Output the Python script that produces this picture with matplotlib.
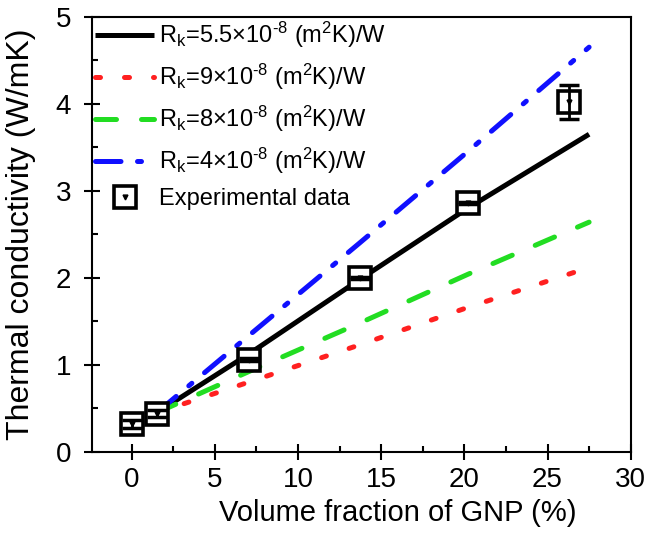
import matplotlib
matplotlib.use("Agg")
import matplotlib.pyplot as plt
from matplotlib.legend_handler import HandlerTuple
from matplotlib.lines import Line2D
from matplotlib.ticker import MultipleLocator

plt.rcParams['font.family'] = ['Liberation Sans', 'DejaVu Sans']
plt.rcParams['mathtext.default'] = 'regular'

# model curves
x_model = [1.5, 7, 13.7, 20.2, 27.5]
k_55 = [0.45, 1.12, 1.98, 2.80, 3.65]
k_9 = [0.45, 0.80, 1.23, 1.66, 2.12]
k_8 = [0.45, 0.92, 1.48, 2.04, 2.64]
k_4 = [0.45, 1.33, 2.40, 3.45, 4.65]

# experimental data
x_exp = [0, 1.5, 7.07, 13.7, 20.2, 26.3]
k_exp = [0.32, 0.44, 1.06, 2.0, 2.86, 4.02]
k_err = [0.05, 0.04, 0.015, 0.015, 0.015, 0.2]

labels = ['R$_{k}$=5.5×10$^{\u20108}$ (m$^{2}$K)/W',
          'R$_{k}$=9×10$^{\u20108}$ (m$^{2}$K)/W',
          'R$_{k}$=8×10$^{\u20108}$ (m$^{2}$K)/W',
          'R$_{k}$=4×10$^{\u20108}$ (m$^{2}$K)/W',
          'Experimental data']

fig = plt.figure(figsize=(6.51, 5.46), dpi=100)
ax = fig.add_axes([0.1409, 0.1722, 0.9688 - 0.1409, 0.9694 - 0.1722])

lw = 3.6
l1, = ax.plot(x_model, k_55, color='black', lw=lw, solid_capstyle='butt')
l2, = ax.plot(x_model, k_9, color='#ff2020', lw=lw, ls=(0, (1.0, 4.8)), dash_capstyle='round')
l3, = ax.plot(x_model, k_8, color='#22dd22', lw=lw, ls=(0, (4.2, 5.0)), dash_capstyle='round')
l4, = ax.plot(x_model, k_4, color='#1010ff', lw=lw, ls=(0, (5.1, 3.3, 0.8, 3.3)), dash_capstyle='round')

ax.plot(x_exp, k_exp, 's', ms=16, mfc='white', mec='black', mew=2.6, ls='none', zorder=5)
ax.errorbar(x_exp, k_exp, yerr=k_err, fmt='none', ecolor='black', elinewidth=2,
            capsize=7, capthick=2.5, zorder=6)
ax.plot(x_exp, k_exp, 'v', ms=3.5, color='black', zorder=7, ls='none')

sq = Line2D([], [], marker='s', ms=16, mfc='white', mec='black', mew=2.6, ls='none')
dt = Line2D([], [], marker='v', ms=3.5, color='black', ls='none')

leg = ax.legend([l1, l2, l3, l4, (sq, dt)], labels, loc='upper left',
                handler_map={tuple: HandlerTuple(ndivide=1, pad=0)},
                frameon=False, fontsize=17, handlelength=2.5, handletextpad=0.2,
                labelspacing=0.5, borderaxespad=0.0, borderpad=0.15)

ax.set_xlim(-2.4, 30)
ax.set_ylim(0, 5)
ax.xaxis.set_major_locator(MultipleLocator(5))
ax.xaxis.set_minor_locator(MultipleLocator(2.5))
ax.yaxis.set_major_locator(MultipleLocator(1))
ax.yaxis.set_minor_locator(MultipleLocator(0.5))
ax.tick_params(which='major', direction='inout', length=12, width=1.5, labelsize=20)
ax.tick_params(axis='x', which='major', pad=5)
ax.tick_params(axis='y', which='major', pad=9)
ax.tick_params(which='minor', direction='in', length=4, width=1.5)
for s in ax.spines.values():
    s.set_linewidth(1.5)

ax.set_xlabel('Volume fraction of GNP (%)', fontsize=21)
ax.set_ylabel('Thermal conductivity (W/mK)', fontsize=23)
ax.xaxis.set_label_coords(0.568, -0.108)
ax.yaxis.set_label_coords(-0.103, 0.5)

fig.savefig('out.png', dpi=100)
